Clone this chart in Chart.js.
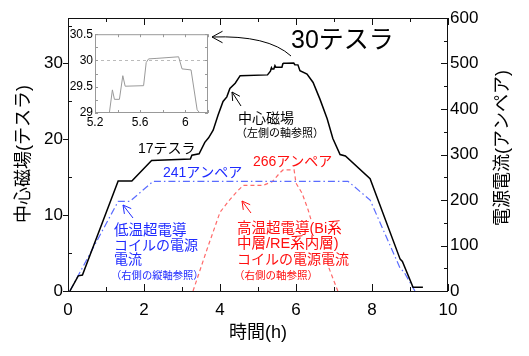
<!DOCTYPE html>
<html><head><meta charset="utf-8">
<script src="https://cdn.jsdelivr.net/npm/chart.js@4"></script>
<style>
html,body{margin:0;padding:0;background:#fff;overflow:hidden}
#wrap{position:relative;width:529px;height:356px}
#main{position:absolute;left:0;top:0}
#inset{position:absolute;left:55px;top:25px}
</style></head><body>
<div id="wrap"><canvas id="main" width="529" height="356"></canvas><canvas id="inset" width="160" height="105"></canvas></div>
<script>
// ---- data (time in hours) ----
const fieldTime  = [0.05, 0.27, 0.38, 1.32, 1.68, 2.2, 3.22, 3.26, 3.45, 3.6, 3.7, 3.82, 3.95, 4.08, 4.18, 4.26, 4.4, 4.53, 5.25,
                    5.327, 5.354, 5.372, 5.416, 5.446, 5.467, 5.63, 5.653, 5.674, 5.748, 5.94, 5.97, 6.05, 6.104,
                    6.29, 6.45, 6.63, 6.82, 6.97, 7.16, 7.3, 7.95, 8.74, 8.8, 9.08, 9.34];
const fieldTesla = [0, 2.0, 2.1, 14.5, 14.5, 17.2, 17.4, 17.9, 18.1, 19.6, 20.2, 21.2, 23.2, 25.0, 25.6, 26.7, 27.4, 28.4, 28.5,
                    29.0, 29.44, 29.26, 29.26, 29.71, 29.51, 29.52, 29.96, 30.03, 30.04, 30.07, 29.84, 29.82, 29.06,
                    28.6, 27.5, 25.3, 22.7, 20.1, 18.0, 17.8, 14.8, 4.2, 3.9, 0.5, 0.5];
const ltsTime = [0.05, 1.32, 1.63, 2.24, 7.37, 7.95, 8.74, 8.84, 9.13];
const ltsAmp  = [0, 197, 197, 241, 241, 200, 50, 42, 0];
const htsTime = [3.29, 3.66, 4.0, 4.26, 4.45, 4.61, 5.13, 5.37, 5.58, 5.66, 5.95, 6.0, 6.16, 6.32, 6.45, 7.1];
const htsAmp  = [0, 92, 173, 201, 219, 232, 232, 240, 260, 266, 266, 237, 215, 178, 141, 0];

const xTicks = [0, 2, 4, 6, 8, 10];
const leftTicks = [0, 10, 20, 30];
const rightTicks = [0, 100, 200, 300, 400, 500, 600];
const insetXTicks = [5.2, 5.6, 6];
const insetYTicks = [29, 29.5, 30, 30.5];

const FONT = '"Liberation Sans", "Noto Sans CJK JP", sans-serif';
const JFONT = '"Noto Sans CJK JP", "Liberation Sans", sans-serif';
const toXY = (xs, ys) => xs.map((x, i) => ({x: x, y: ys[i]}));
const setTicks = arr => s => { s.ticks = arr.map(v => ({value: v})); };

function seg(ctx, x1, y1, x2, y2) { ctx.beginPath(); ctx.moveTo(x1, y1); ctx.lineTo(x2, y2); ctx.stroke(); }
function head(ctx, tx, ty, fx, fy, len) {
  const a = Math.atan2(ty - fy, tx - fx);
  for (const d of [0.5, -0.5]) seg(ctx, tx, ty, tx - len * Math.cos(a + d), ty - len * Math.sin(a + d));
}
function txt(ctx, s, x, y, size, color, bg, fam) {
  ctx.font = size + 'px ' + (fam || FONT);
  ctx.textAlign = 'left'; ctx.textBaseline = 'middle';
  if (bg) { const w = ctx.measureText(s).width; ctx.fillStyle = '#fff'; ctx.fillRect(x - 1, y - size / 2 - 1, w + 2, size + 2); }
  ctx.fillStyle = color; ctx.fillText(s, x, y);
}

const decor = {
  id: 'decor',
  afterDraw(chart) {
    const ctx = chart.ctx, a = chart.chartArea, sx = chart.scales.x, sy = chart.scales.y, sy2 = chart.scales.y2;
    ctx.save();
    ctx.strokeStyle = '#111'; ctx.lineWidth = 1;
    ctx.strokeRect(a.left + 0.5, a.top + 0.5, a.right - a.left - 1, a.bottom - a.top);
    // x ticks (bottom & top), inward
    for (let v = 0; v <= 10; v++) {
      const px = Math.round(sx.getPixelForValue(v)) + 0.5, L = v % 2 === 0 ? 7 : 4;
      seg(ctx, px, a.bottom, px, a.bottom - L);
      seg(ctx, px, a.top, px, a.top + L);
    }
    // left ticks
    for (let v = 0; v <= 35; v += 5) {
      const py = Math.round(sy.getPixelForValue(v)) + 0.5;
      if (v % 10 === 0) seg(ctx, a.left - 5, py, a.left, py); else seg(ctx, a.left, py, a.left + 4, py);
    }
    // right ticks
    for (let v = 0; v <= 600; v += 50) {
      const py = Math.round(sy2.getPixelForValue(v)) + 0.5, L = v % 100 === 0 ? 7 : 4;
      seg(ctx, a.right, py, a.right - L, py);
    }
    // axis titles
    ctx.fillStyle = '#000'; ctx.textAlign = 'center'; ctx.textBaseline = 'middle';
    ctx.font = '18px ' + FONT;
    ctx.fillText('時間(h)', 258, 333);
    ctx.save(); ctx.translate(24, 154); ctx.rotate(-Math.PI / 2); ctx.fillText('中心磁場(テスラ)', 0, 0); ctx.restore();
    ctx.save(); ctx.translate(503, 148); ctx.rotate(-Math.PI / 2); ctx.fillText('電源電流(アンペア)', 0, 0); ctx.restore();

    // annotations
    txt(ctx, '30テスラ', 291, 41, 25, '#000');
    ctx.strokeStyle = '#000'; ctx.lineWidth = 1;
    ctx.beginPath(); ctx.moveTo(291, 56); ctx.quadraticCurveTo(268, 35, 212, 37); ctx.stroke();
    head(ctx, 212, 37, 230, 37, 12);

    txt(ctx, '中心磁場', 238, 118, 14, '#000', false, JFONT);
    txt(ctx, '（左側の軸参照）', 236, 133, 11, '#000', false, JFONT);
    seg(ctx, 241, 106, 232, 92); head(ctx, 232, 92, 241, 106, 9);

    txt(ctx, '17テスラ', 138, 149, 14, '#000');

    const blue = '#1f2bff';
    txt(ctx, '241アンペア', 163, 173, 14, blue);
    ctx.strokeStyle = blue;
    seg(ctx, 133, 218, 123, 205); head(ctx, 123, 205, 133, 218, 9);
    txt(ctx, '低温超電導', 114, 229, 14.5, blue, false, JFONT);
    txt(ctx, 'コイルの電源', 114, 245, 14, blue, false, JFONT);
    txt(ctx, '電流', 114, 259, 14, blue, false, JFONT);
    txt(ctx, '（右側の縦軸参照）', 111, 275, 10.3, blue, false, JFONT);

    const red = '#ff1010';
    txt(ctx, '266アンペア', 253, 162, 14, red);
    ctx.strokeStyle = red;
    seg(ctx, 251, 213, 242, 201); head(ctx, 242, 201, 251, 213, 9);
    txt(ctx, '高温超電導(Bi系', 237, 229, 14.5, red, true);
    txt(ctx, '中層/RE系内層)', 237, 244, 14.5, red, true);
    txt(ctx, 'コイルの電源電流', 237, 259, 14, red, true, JFONT);
    txt(ctx, '（右側の軸参照）', 234, 275, 10.5, red, true, JFONT);
    ctx.restore();
  }
};

const tickFont = {family: FONT, size: 17};
new Chart(document.getElementById('main'), {
  type: 'line',
  data: {datasets: [
    {data: toXY(fieldTime, fieldTesla), yAxisID: 'y', borderColor: '#000', borderWidth: 1.5, pointRadius: 0, tension: 0},
    {data: toXY(ltsTime, ltsAmp), yAxisID: 'y2', borderColor: '#5a6cff', borderWidth: 1.2, borderDash: [7, 3, 1.5, 3], pointRadius: 0, tension: 0},
    {data: toXY(htsTime, htsAmp), yAxisID: 'y2', borderColor: '#ff6a6a', borderWidth: 1.2, borderDash: [4, 3], pointRadius: 0, tension: 0}
  ]},
  options: {
    responsive: false, animation: false, devicePixelRatio: 1,
    layout: {padding: {top: 18, left: 0, right: 0, bottom: 0}},
    plugins: {legend: {display: false}, tooltip: {enabled: false}},
    scales: {
      x: {type: 'linear', min: 0, max: 10, grid: {display: false, drawTicks: false}, border: {display: false},
          afterBuildTicks: setTicks(xTicks), afterFit: s => { s.height = 65; },
          ticks: {font: tickFont, color: '#000', padding: 9, maxRotation: 0, autoSkip: false, callback: v => String(v)}},
      y: {type: 'linear', position: 'left', min: 0, max: 36, grid: {display: false, drawTicks: false}, border: {display: false},
          afterBuildTicks: setTicks(leftTicks), afterFit: s => { s.width = 68; },
          ticks: {font: tickFont, color: '#000', padding: 5, autoSkip: false, callback: v => String(v)}},
      y2: {type: 'linear', position: 'right', min: 0, max: 600, grid: {display: false, drawTicks: false}, border: {display: false},
          afterBuildTicks: setTicks(rightTicks), afterFit: s => { s.width = 81; },
          ticks: {font: tickFont, color: '#000', padding: 2, autoSkip: false, callback: v => String(v)}}
    }
  },
  plugins: [decor]
});

const insetDecor = {
  id: 'insetDecor',
  beforeDatasetsDraw(chart) {
    const ctx = chart.ctx, a = chart.chartArea, sy = chart.scales.y, sx = chart.scales.x;
    ctx.save();
    ctx.fillStyle = '#fff'; ctx.fillRect(a.left, a.top, a.right - a.left, a.bottom - a.top);
    ctx.strokeStyle = '#bbb'; ctx.setLineDash([3, 3]); ctx.lineWidth = 1;
    const py = Math.round(sy.getPixelForValue(30)) + 0.5;
    seg(ctx, a.left, py, a.right, py);
    ctx.restore();
  },
  afterDraw(chart) {
    const ctx = chart.ctx, a = chart.chartArea, sy = chart.scales.y, sx = chart.scales.x;
    ctx.save();
    ctx.strokeStyle = '#999'; ctx.lineWidth = 1;
    ctx.strokeRect(a.left + 0.5, a.top + 0.5, a.right - a.left - 1, a.bottom - a.top - 1);
    for (let i = 0; i <= 5; i++) {
      const px = Math.round(sx.getPixelForValue(5.2 + i * 0.2)) + 0.5;
      seg(ctx, px, a.bottom, px, a.bottom - 3); seg(ctx, px, a.top, px, a.top + 3);
    }
    for (let i = 0; i <= 6; i++) {
      const py = Math.round(sy.getPixelForValue(29 + i * 0.25)) + 0.5;
      seg(ctx, a.left, py, a.left + 3, py); seg(ctx, a.right, py, a.right - 3, py);
    }
    ctx.restore();
  }
};

const insetFont = {family: FONT, size: 12};
new Chart(document.getElementById('inset'), {
  type: 'line',
  data: {datasets: [
    {data: toXY(fieldTime, fieldTesla), borderColor: '#9a9a9a', borderWidth: 1, pointRadius: 0, tension: 0}
  ]},
  options: {
    responsive: false, animation: false, devicePixelRatio: 1,
    layout: {padding: {top: 8, right: 7, left: 0, bottom: 0}},
    plugins: {legend: {display: false}, tooltip: {enabled: false}},
    scales: {
      x: {type: 'linear', min: 5.2, max: 6.2, grid: {display: false, drawTicks: false}, border: {display: false},
          afterBuildTicks: setTicks(insetXTicks), afterFit: s => { s.height = 17; },
          ticks: {font: insetFont, color: '#000', padding: 2, maxRotation: 0, autoSkip: false, callback: v => String(+v.toFixed(1))}},
      y: {type: 'linear', min: 29, max: 30.5, grid: {display: false, drawTicks: false}, border: {display: false},
          afterBuildTicks: setTicks(insetYTicks), afterFit: s => { s.width = 40; },
          ticks: {font: insetFont, color: '#000', padding: 2, autoSkip: false, callback: v => String(+v.toFixed(1))}}
    }
  },
  plugins: [insetDecor]
});
</script>
</body></html>
